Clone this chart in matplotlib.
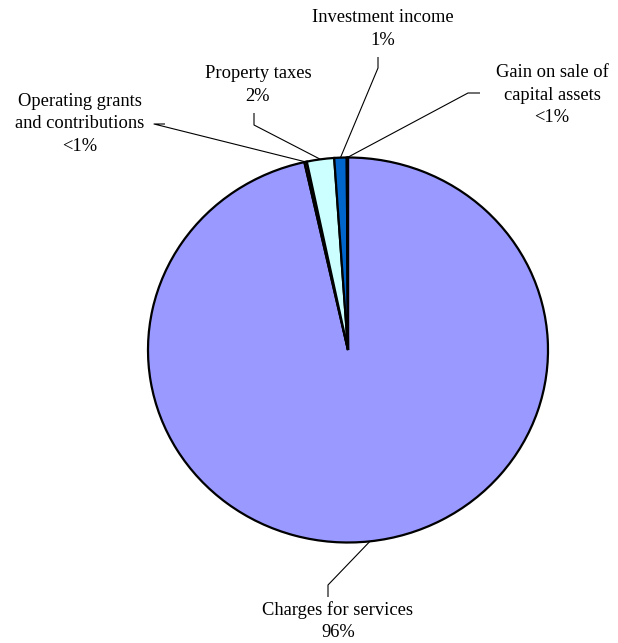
import numpy as np
import matplotlib
matplotlib.use("Agg")
import matplotlib.pyplot as plt

# Revenue sources (percent of total)
categories = ["Charges for services", "Operating grants\nand contributions",
              "Property taxes", "Investment income", "Gain on sale of\ncapital assets"]
values = [96.5, 0.2, 2.2, 1.0, 0.1]
colors = ["#9999FF", "#993366", "#CCFFFF", "#0066CC", "#FFFFCC"]

# label anchor (text centre, pixels from top-left) and elbow of the leader line
label_pos = [(338, 621), (80, 124), (258, 85), (383, 29), (552, 95)]
elbow_pos = [[(328, 585), (328, 597)],
             [(154, 124), (165, 124)],
             [(254, 125), (254, 113)],
             [(378, 68), (378, 57)],
             [(468, 93), (480, 93)]]

W, H = 618, 643
DPI = 100
CX, CY = 348, 350          # pie centre in pixels
R = 200                    # horizontal radius in pixels
KY = 385 / 400             # vertical squash of the pie

fig = plt.figure(figsize=(W / DPI, H / DPI), dpi=DPI)
ax = fig.add_axes([0, 0, 1, 1])


def px(x, y):
    """pixel position -> data coordinates"""
    return x - CX, (CY - y) / KY


wedges, _ = ax.pie(values, colors=colors, startangle=90, counterclock=False,
                   radius=R, center=(0, 0),
                   wedgeprops=dict(edgecolor="black", linewidth=1.6))
ax.set_aspect("auto")
ax.set_xlim(-CX, W - CX)
ax.set_ylim(-(H - CY) / KY, CY / KY)
ax.axis("off")


def pct_label(v):
    return "<1%" if v < 0.5 else f"{round(v)}%"


for w, cat, v, lp, el in zip(wedges, categories, values, label_pos, elbow_pos):
    mid = np.deg2rad((w.theta1 + w.theta2) / 2)
    ax_pt = (R * np.cos(mid), R * np.sin(mid))
    pts = [ax_pt] + [px(*p) for p in el]
    xs, ys = zip(*pts)
    ax.plot(xs, ys, color="black", linewidth=0.8, solid_capstyle="butt")
    tx, ty = px(*lp)
    ax.text(tx, ty, f"{cat}\n{pct_label(v)}", ha="center", va="center",
            fontsize=13.3, family="Liberation Serif", linespacing=1.4,
            color="black")

fig.savefig("out.png", dpi=DPI)
